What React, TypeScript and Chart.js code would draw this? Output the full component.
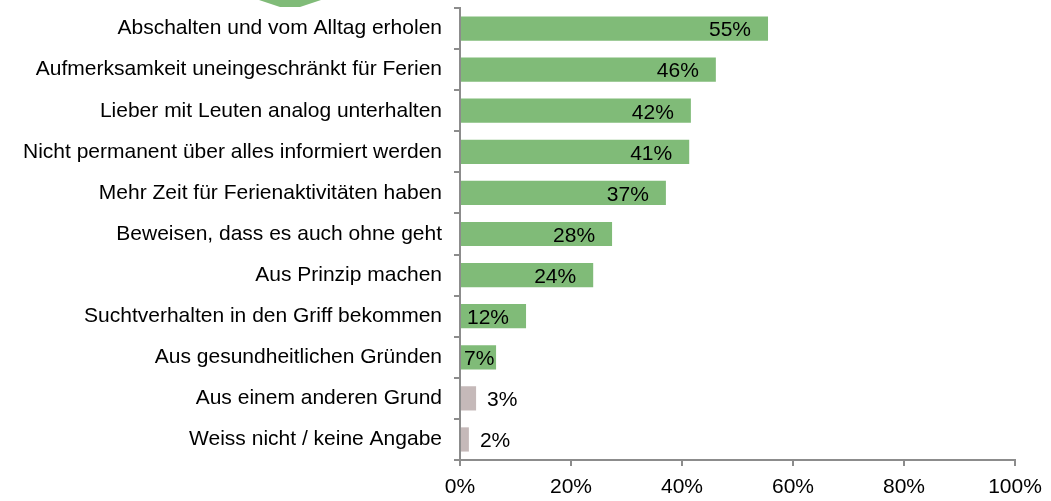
import React, { useEffect, useRef } from "react";
import { Chart, registerables } from "chart.js";

Chart.register(...registerables);

const categories = [
  "Abschalten und vom Alltag erholen",
  "Aufmerksamkeit uneingeschränkt für Ferien",
  "Lieber mit Leuten analog unterhalten",
  "Nicht permanent über alles informiert werden",
  "Mehr Zeit für Ferienaktivitäten haben",
  "Beweisen, dass es auch ohne geht",
  "Aus Prinzip machen",
  "Suchtverhalten in den Griff bekommen",
  "Aus gesundheitlichen Gründen",
  "Aus einem anderen Grund",
  "Weiss nicht / keine Angabe",
];
const values = [55.5, 46.1, 41.6, 41.3, 37.1, 27.4, 24.0, 11.9, 6.5, 2.9, 1.6];
const valueLabels = ["55%", "46%", "42%", "41%", "37%", "28%", "24%", "12%", "7%", "3%", "2%"];
const isOther = [false, false, false, false, false, false, false, false, false, true, true];
const xTicks = [0, 20, 40, 60, 80, 100];

const GREEN = "#80bb78";
const GREY = "#c5b9b9";
const AXIS = "#8c8c8c";
const FONT = "Arial, 'Liberation Sans', sans-serif";
const FS = 21;

const labelPlugin = {
  id: "valueLabels",
  afterDatasetsDraw(chart: any) {
    const ctx = chart.ctx;
    const meta = chart.getDatasetMeta(0);
    ctx.save();
    ctx.font = `${FS}px ${FONT}`;
    ctx.fillStyle = "#000";
    ctx.textBaseline = "middle";
    ctx.textAlign = "left";
    meta.data.forEach((bar: any, i: number) => {
      const txt = valueLabels[i];
      const w = ctx.measureText(txt).width;
      let left: number;
      if (isOther[i]) {
        left = bar.x + 11;
      } else {
        left = bar.x - 17 - w;
        if (left < bar.base + 3) left = bar.base + 3;
      }
      ctx.fillText(txt, left, bar.y + 2);
    });
    ctx.restore();
  },
};

const arrowPlugin = {
  id: "arrowDeco",
  beforeDraw(chart: any) {
    const ctx = chart.ctx;
    ctx.save();
    ctx.fillStyle = GREEN;
    ctx.beginPath();
    ctx.moveTo(259, 0);
    ctx.lineTo(321, 0);
    ctx.lineTo(300, 7);
    ctx.lineTo(280, 7);
    ctx.closePath();
    ctx.fill();
    ctx.restore();
  },
};

export default function App() {
  const ref = useRef<HTMLCanvasElement | null>(null);
  useEffect(() => {
    if (!ref.current) return;
    const chart = new Chart(ref.current, {
      type: "bar",
      data: {
        labels: categories,
        datasets: [
          {
            data: values,
            backgroundColor: values.map((_, i) => (isOther[i] ? GREY : GREEN)),
            barPercentage: 0.59,
            categoryPercentage: 1,
          },
        ],
      },
      options: {
        indexAxis: "y",
        animation: false,
        responsive: false,
        maintainAspectRatio: false,
        layout: { padding: { top: 8, right: 36, left: 0, bottom: 0 } },
        plugins: { legend: { display: false }, tooltip: { enabled: false } },
        scales: {
          x: {
            min: 0,
            max: 100,
            afterBuildTicks: (scale: any) => {
              scale.ticks = xTicks.map((v) => ({ value: v }));
            },
            afterFit: (scale: any) => {
              scale.height = 41;
            },
            ticks: {
              callback: (v: any) => `${v}%`,
              color: "#000",
              font: { family: FONT, size: FS },
              padding: 9,
              maxRotation: 0,
              autoSkip: false,
            },
            grid: {
              drawOnChartArea: false,
              drawTicks: true,
              tickLength: 6,
              color: AXIS,
              lineWidth: 2,
            },
            border: { display: true, color: AXIS, width: 2 },
          },
          y: {
            afterFit: (scale: any) => {
              scale.width = 460;
              scale.paddingTop = 0;
              scale.paddingBottom = 0;
            },
            ticks: {
              color: "#000",
              font: { family: FONT, size: FS },
              padding: 12,
              autoSkip: false,
            },
            grid: {
              drawOnChartArea: false,
              drawTicks: true,
              tickLength: 6,
              color: AXIS,
              lineWidth: 2,
              offset: true,
            },
            border: { display: true, color: AXIS, width: 2 },
          },
        },
      },
      plugins: [labelPlugin, arrowPlugin],
    });
    return () => chart.destroy();
  }, []);
  return (
    <div style={{ position: "absolute", left: 0, top: 0, width: 1051, height: 501, background: "#fff" }}>
      <canvas ref={ref} width={1051} height={501} style={{ width: 1051, height: 501 }} />
    </div>
  );
}
